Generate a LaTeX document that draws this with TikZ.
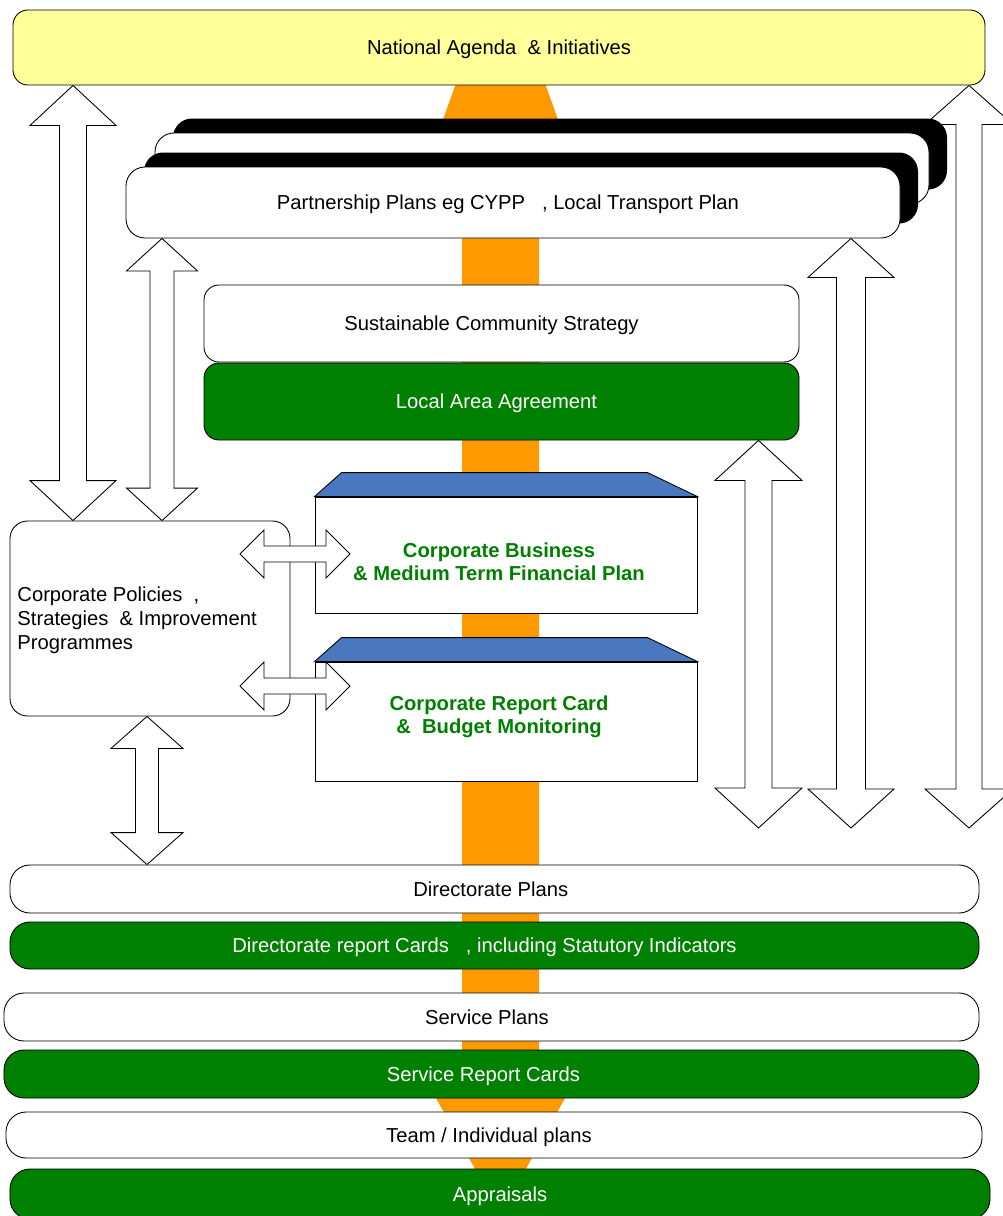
\documentclass[tikz,border=0pt]{standalone}
\usepackage{fontspec}
\setmainfont{Liberation Sans}
\usetikzlibrary{calc,shadows}
\definecolor{agenda}{HTML}{FFFF99}
\definecolor{spine}{HTML}{FF9900}
\definecolor{cardgreen}{HTML}{008000}
\definecolor{lidblue}{HTML}{4A78C0}
\def\blockarrow[#1](#2)(#3)#4#5#6{\draw[#1] (#2) -- ($(#2)!#4cm!(#3)!#5cm!90:(#3)$) -- ($(#2)!#4cm!(#3)!#6cm!90:(#3)$) -- ($(#3)!#4cm!(#2)!#6cm!-90:(#2)$) -- ($(#3)!#4cm!(#2)!#5cm!-90:(#2)$) -- (#3) -- ($(#3)!#4cm!(#2)!#5cm!90:(#2)$) -- ($(#3)!#4cm!(#2)!#6cm!90:(#2)$) -- ($(#2)!#4cm!(#3)!#6cm!-90:(#3)$) -- ($(#2)!#4cm!(#3)!#5cm!-90:(#3)$) -- cycle;}
\tikzset{
	plan/.style={draw, fill=white, inner sep=0pt, text depth=0pt, minimum width=15.48cm, minimum height=1.42cm, rounded corners=0.38cm, drop shadow={shadow xshift=0.36cm, shadow yshift=0.29cm, fill=black, opacity=1}},
	layer/.style={draw, inner sep=0pt, text depth=0pt, minimum width=11.9cm, minimum height=1.54cm, rounded corners=0.3cm},
	lidbox/.style={draw, fill=white, inner sep=0pt, minimum width=7.64cm},
	lid/.style={draw, fill=lidblue},
	cardtext/.style={text=cardgreen, font=\fontsize{11.5}{13.2}\selectfont\bfseries, align=center},
	band/.style={draw, inner sep=0pt, text depth=0pt, rounded corners=0.4cm, minimum height=0.96cm},
	plainband/.style={band, fill=white},
	greenband/.style={band, fill=cardgreen, text=white},
	hollow/.style={draw, fill=white, line join=miter}
}
\begin{document}
\begin{tikzpicture}[font=\fontsize{11.5}{13.6}\selectfont, line width=0.5pt]
			%%%%% START %%%%%
			\useasboundingbox (0, 0) rectangle (20.06, -24.32);
			\clip (0, 0) rectangle (20.06, -24.32);
			
			\fill[spine] (9.43, -0.8) -- (10.59, -0.8) -- (11.45, -3.2) -- (10.78, -3.2) -- (10.78, -21.6) -- (11.5, -21.6) -- (10.01, -24.3) -- (8.52, -21.6) -- (9.24, -21.6) -- (9.24, -3.2) -- (8.57, -3.2) -- cycle;
			
			\node[draw, fill=agenda, inner sep=0pt, text depth=0pt, minimum width=19.44cm, minimum height=1.5cm, rounded corners=0.3cm] (national) at (9.98, -0.95) {National Agenda~~\& Initiatives};
			
			\coordinate (col a1) at (1.46, 0);
			\coordinate (col a2) at (3.24, 0);
			\coordinate (col a3) at (2.94, 0);
			\coordinate (col r1) at (15.17, 0);
			\coordinate (col r2) at (17.02, 0);
			\coordinate (col r3) at (19.38, 0);
			\coordinate (r1 end) at (15.17, -16.56);
			\coordinate (r2 end) at (17.02, -16.56);
			\coordinate (r3 end) at (19.38, -16.56);
			
			\blockarrow[hollow](national.south -| col r3)(r3 end){0.78}{0.88}{0.26}
			
			\node[plan] (plans back) at (10.84, -3.37) {};
			\node[plan] (partnership) at (10.26, -4.05) {Partnership Plans eg CYPP~~~, Local Transport Plan\hspace*{0.2cm}};
			
			\node[layer, fill=white] (community) at (10.03, -6.47) {Sustainable Community Strategy\hspace*{0.4cm}};
			\node[layer, fill=cardgreen, text=white] (laa) at (10.03, -8.03) {Local Area Agreement\hspace*{0.2cm}};
			
			\node[lidbox, minimum height=2.32cm] (business) at (10.12, -11.1) {};
			\draw[lid] (business.north west) -- ++(0.54, 0.48) -- ($(business.north east)+(-1, 0.48)$) -- (business.north east) -- cycle;
			\node[cardtext] (business text) at (9.98, -11.23) {Corporate Business\\\& Medium Term Financial Plan};
			
			\node[lidbox, minimum height=2.38cm] (report) at (10.12, -14.43) {};
			\draw[lid] (report.north west) -- ++(0.54, 0.48) -- ($(report.north east)+(-1, 0.48)$) -- (report.north east) -- cycle;
			\node[cardtext] (report text) at (9.98, -14.33) {Corporate Report Card\\\&~~Budget Monitoring};
			
			\node[draw, fill=white, inner sep=0pt, minimum width=5.6cm, minimum height=3.9cm, rounded corners=0.35cm] (policies) at (3, -12.37) {};
			\node[anchor=west, align=left, inner sep=0pt] (policies text) at (0.34, -12.41) {Corporate Policies~~,\\Strategies~~\& Improvement\\Programmes};
			
			\node[plainband, minimum width=19.38cm] (dirplans) at (9.89, -17.78) {Directorate Plans\hspace*{0.15cm}};
			\node[greenband, minimum width=19.38cm, minimum height=0.94cm] (dircards) at (9.89, -18.91) {Directorate report Cards~~~, including Statutory Indicators\hspace*{0.4cm}};
			\node[plainband, minimum width=19.5cm] (svcplans) at (9.83, -20.34) {Service Plans\hspace*{0.18cm}};
			\node[greenband, minimum width=19.5cm] (svccards) at (9.83, -21.48) {Service Report Cards\hspace*{0.32cm}};
			\node[plainband, minimum width=19.52cm, minimum height=0.92cm] (team) at (9.88, -22.7) {Team / Individual plans\hspace*{0.2cm}};
			\node[greenband, minimum width=19.6cm, minimum height=1cm] (appraisals) at (10, -23.88) {Appraisals};
			
			\blockarrow[hollow](national.south -| col a1)(policies.north -| col a1){0.8}{0.86}{0.27}
			\blockarrow[hollow](partnership.south -| col a2)(policies.north -| col a2){0.65}{0.71}{0.24}
			\blockarrow[hollow](policies.south -| col a3)(dirplans.north -| col a3){0.64}{0.72}{0.23}
			\blockarrow[hollow](laa.south -| col r1)(r1 end){0.8}{0.87}{0.27}
			\blockarrow[hollow](partnership.south -| col r2)(r2 end){0.78}{0.86}{0.29}
			
			\coordinate (h1 west) at (4.8, -11.08);
			\coordinate (h1 east) at (7, -11.08);
			\coordinate (h2 west) at (4.8, -13.72);
			\coordinate (h2 east) at (7, -13.72);
			\blockarrow[hollow](h1 west)(h1 east){0.48}{0.48}{0.16}
			\blockarrow[hollow](h2 west)(h2 east){0.48}{0.48}{0.16}
			
			%%%%% END %%%%%
\end{tikzpicture}
\end{document}
